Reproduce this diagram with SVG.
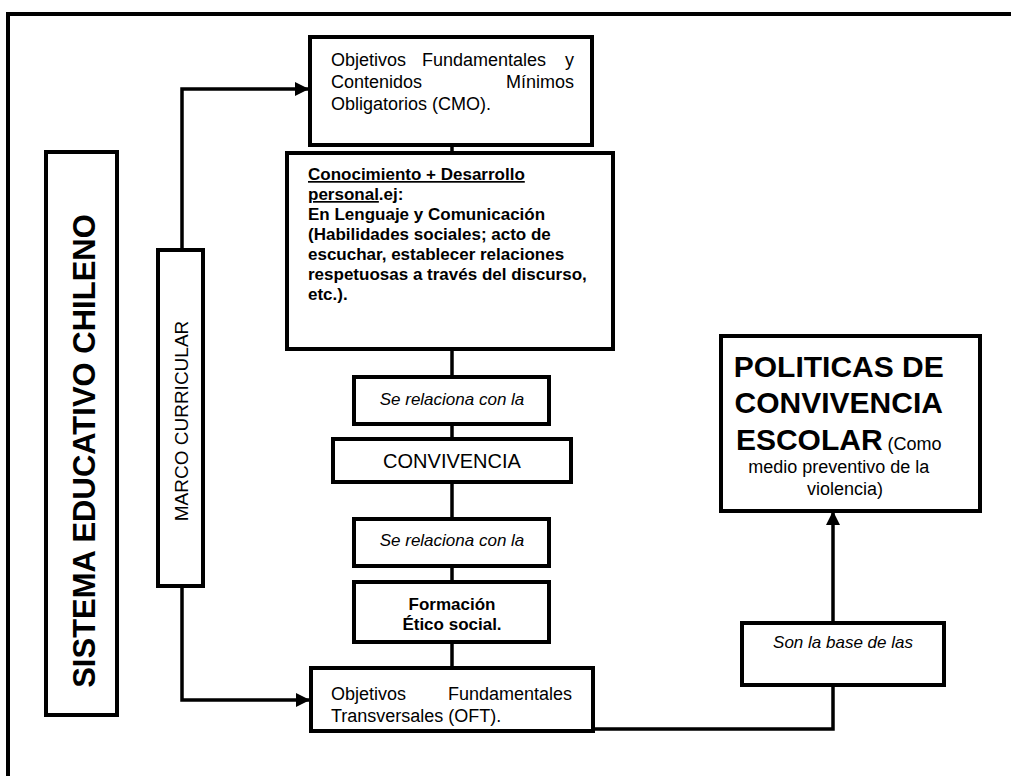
<svg xmlns="http://www.w3.org/2000/svg" width="1011" height="776" viewBox="0 0 1011 776">
<style>
.box{fill:#fff;stroke:#000;stroke-width:4}
.ln{fill:none;stroke:#000;stroke-width:3.5}
.t{font-family:"Liberation Sans",Arial,sans-serif;fill:#000}
.b{font-weight:bold}
.i{font-style:italic}
</style>
<defs>
<marker id="ah" markerUnits="userSpaceOnUse" markerWidth="14" markerHeight="14" refX="13" refY="7" orient="auto">
<path d="M0,0 L14,7 L0,14 Z" fill="#000"/>
</marker>
</defs>
<rect width="1011" height="776" fill="#fff"/>
<path d="M8,776 V14 H1011" fill="none" stroke="#000" stroke-width="4"/>
<g id="connectors">
<path class="ln" d="M182,250 V89 H308" marker-end="url(#ah)"/>
<path class="ln" d="M182,586 V700 H309" marker-end="url(#ah)"/>
<path class="ln" d="M452,145 V153"/>
<path class="ln" d="M452,349 V377"/>
<path class="ln" d="M452,424 V439"/>
<path class="ln" d="M452,482 V519"/>
<path class="ln" d="M452,566 V582"/>
<path class="ln" d="M452,642 V668"/>
<path class="ln" d="M593,729 H833 V685"/>
<path class="ln" d="M833,623 V512" marker-end="url(#ah)"/>
</g>
<g id="sistema">
<rect class="box" x="46" y="152" width="71" height="563"/>
<text class="t b" font-size="31" text-anchor="middle" transform="translate(95,451) rotate(-90)">SISTEMA EDUCATIVO CHILENO</text>
</g>
<g id="marco">
<rect class="box" x="158" y="250" width="45" height="336"/>
<text class="t" font-size="19" text-anchor="middle" transform="translate(188,421) rotate(-90)">MARCO CURRICULAR</text>
</g>
<g id="cmo">
<rect class="box" x="310" y="37" width="282" height="108"/>
<text class="t" font-size="18"><tspan x="331" y="66">Objetivos</tspan><tspan x="422" y="66">Fundamentales</tspan><tspan x="574" y="66" text-anchor="end">y</tspan></text>
<text class="t" font-size="18"><tspan x="331" y="88">Contenidos</tspan><tspan x="574" y="88" text-anchor="end">Mínimos</tspan></text>
<text class="t" font-size="18" x="331" y="110">Obligatorios (CMO).</text>
</g>
<g id="conocimiento">
<rect class="box" x="287" y="153" width="326" height="196"/>
<text class="t b" font-size="17">
<tspan x="308" y="180" text-decoration="underline">Conocimiento + Desarrollo</tspan>
<tspan x="308" y="200"><tspan text-decoration="underline">personal</tspan>.ej:</tspan>
<tspan x="308" y="220">En Lenguaje y Comunicación</tspan>
<tspan x="308" y="240">(Habilidades sociales; acto de</tspan>
<tspan x="308" y="260">escuchar, establecer relaciones</tspan>
<tspan x="308" y="280">respetuosas a través del discurso,</tspan>
<tspan x="308" y="300">etc.).</tspan>
</text>
</g>
<g id="se1">
<rect class="box" x="354" y="377" width="195" height="47"/>
<text class="t i" font-size="17" x="452" y="405" text-anchor="middle">Se relaciona con la</text>
</g>
<g id="convivencia">
<rect class="box" x="333" y="439" width="238" height="43"/>
<text class="t" font-size="20" x="452" y="468" text-anchor="middle">CONVIVENCIA</text>
</g>
<g id="se2">
<rect class="box" x="354" y="519" width="195" height="47"/>
<text class="t i" font-size="17" x="452" y="546" text-anchor="middle">Se relaciona con la</text>
</g>
<g id="formacion">
<rect class="box" x="354" y="582" width="195" height="60"/>
<text class="t b" font-size="17" text-anchor="middle"><tspan x="452" y="610">Formación</tspan><tspan x="452" y="630">Ético social.</tspan></text>
</g>
<g id="oft">
<rect class="box" x="311" y="668" width="282" height="63"/>
<text class="t" font-size="18"><tspan x="331" y="700">Objetivos</tspan><tspan x="572" y="700" text-anchor="end">Fundamentales</tspan></text>
<text class="t" font-size="18" x="331" y="722">Transversales (OFT).</text>
</g>
<g id="base">
<rect class="box" x="742" y="623" width="202" height="62"/>
<text class="t i" font-size="17" x="843" y="648" text-anchor="middle">Son la base de las</text>
</g>
<g id="politicas">
<rect class="box" x="721" y="336" width="259" height="175"/>
<text class="t" text-anchor="middle">
<tspan class="b" font-size="30" x="841" y="377">POLITICAS DE</tspan>
<tspan class="b" font-size="30" x="841" y="413">CONVIVENCIA</tspan>
<tspan x="841" y="450"><tspan class="b" font-size="30">ESCOLAR</tspan><tspan font-size="18"> (Como</tspan></tspan>
<tspan font-size="18" x="841" y="473">medio preventivo de la</tspan>
<tspan font-size="18" x="845" y="495">violencia)</tspan>
</text>
</g>
</svg>
